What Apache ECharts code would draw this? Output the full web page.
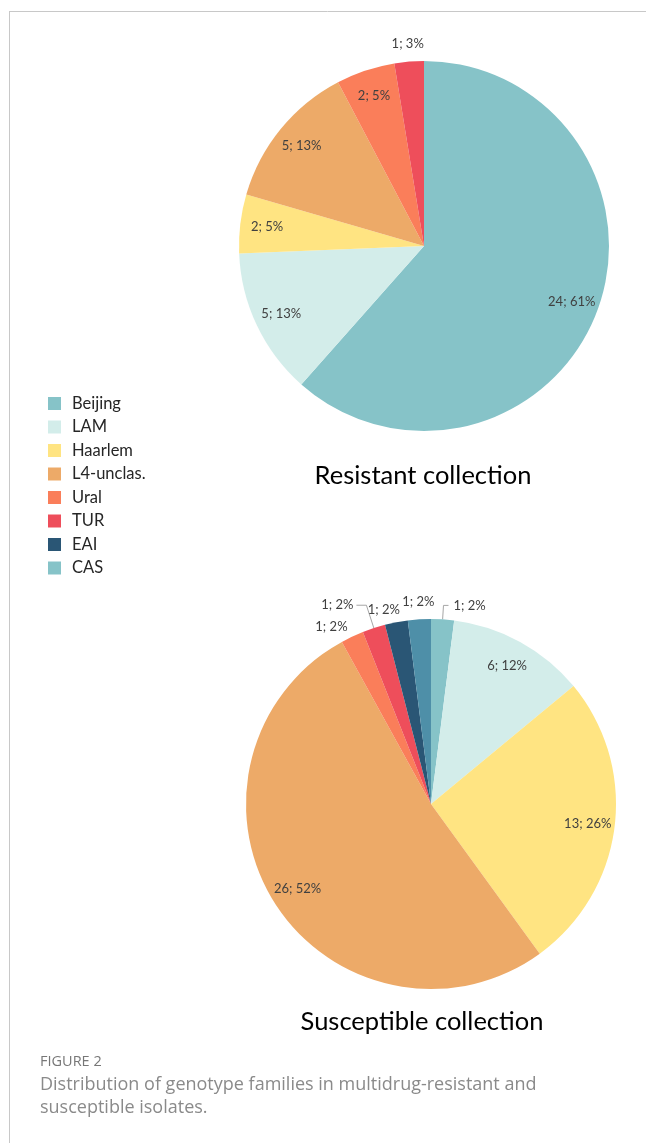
<!DOCTYPE html>
<html>
<head>
<meta charset="utf-8">
<script src="https://cdn.jsdelivr.net/npm/echarts@6/dist/echarts.min.js"></script>
<style>
  html, body { margin: 0; padding: 0; background: #fff; }
  #chart { width: 646px; height: 1143px; }
</style>
</head>
<body>
<div id="chart"></div>
<script>
// ---- data ----
const families = ['Beijing', 'LAM', 'Haarlem', 'L4-unclas.', 'Ural', 'TUR', 'EAI', 'CAS'];
const legendColors = ['#86C3C8', '#D3EDEA', '#FFE482', '#EDAA68', '#FA7E5A', '#EE4E5B', '#2A5675', '#86C3C8'];
const sliceColors  = ['#86C3C8', '#D3EDEA', '#FFE482', '#EDAA68', '#FA7E5A', '#EE4E5B', '#2A5675', '#4E8FA8'];

const resistantNames  = ['Beijing', 'LAM', 'Haarlem', 'L4-unclas.', 'Ural', 'TUR'];
const resistantValues = [24, 5, 2, 5, 2, 1];

const susceptibleNames  = ['Beijing', 'LAM', 'Haarlem', 'L4-unclas.', 'Ural', 'TUR', 'EAI', 'CAS'];
const susceptibleValues = [1, 6, 13, 26, 1, 1, 1, 1];

const titles = ['Resistant collection', 'Susceptible collection'];
const captionHead = 'FIGURE 2';
const captionLines = ['Distribution of genotype families in multidrug-resistant and', 'susceptible isolates.'];

// outside label placement (style): name -> [lineLength, lineLength2, showLine, distance]
const resistantOutside = {};
const susceptibleOutside = {
  'Beijing': [14, 5, true, 5],
  'TUR': [24, 10, true, 3],
  'EAI': [13, 0, false, -6],
  'Ural': [11, 0, false, 0]
};

// ---- helpers ----
const LABEL_FONT = 'Lato, "Noto Sans", sans-serif';
const labelStyle = { color: '#404040', fontSize: 13, fontFamily: LABEL_FONT };
const fmt = p => p.value + '; ' + p.percent + '%';

function colorOf(name) { return sliceColors[families.indexOf(name)]; }

function makePie(names, values, center, outside) {
  const R = 185;
  const main = {
    type: 'pie', center: center, radius: [0, R], startAngle: 90, clockwise: true,
    percentPrecision: 0, avoidLabelOverlap: false, silent: true,
    itemStyle: { borderWidth: 0 },
    emphasis: { disabled: true },
    data: names.map((n, i) => {
      const o = outside[n];
      return {
        name: n, value: values[i],
        itemStyle: { color: colorOf(n) },
        label: o ? Object.assign({ show: true, position: 'outside', formatter: fmt, distanceToLabelLine: o[3] }, labelStyle) : { show: false },
        labelLine: o ? { show: o[2], length: o[0], length2: o[1], smooth: false, lineStyle: { color: '#A6A6A6', width: 1 } } : { show: false }
      };
    })
  };
  const transparent = { color: 'rgba(0,0,0,0)', borderWidth: 0 };
  const inner = {
    type: 'pie', center: center, radius: [125, R], startAngle: 90, clockwise: true,
    percentPrecision: 0, silent: true, emphasis: { disabled: true },
    itemStyle: transparent, labelLine: { show: false },
    label: Object.assign({ position: 'inside', formatter: p => p.value > 1 ? fmt(p) : '' }, labelStyle),
    data: names.map((n, i) => ({ name: n, value: values[i] }))
  };
  const ring = {
    type: 'pie', center: center, radius: [R, 214], startAngle: 90, clockwise: true,
    percentPrecision: 0, silent: true, emphasis: { disabled: true },
    itemStyle: transparent, labelLine: { show: false },
    label: Object.assign({ position: 'inside', formatter: p => (p.value === 1 && !outside[p.name]) ? fmt(p) : '' }, labelStyle),
    data: names.map((n, i) => ({ name: n, value: values[i] }))
  };
  return [main, inner, ring];
}

const chart = echarts.init(document.getElementById('chart'), null, { renderer: 'canvas' });

const option = {
  animation: false,
  backgroundColor: '#ffffff',
  legend: {
    orient: 'vertical', left: 43, top: 390,
    icon: 'rect', itemWidth: 13, itemHeight: 13, itemGap: 6.5,
    selectedMode: false,
    textStyle: { fontSize: 16.5, color: '#262626', fontFamily: LABEL_FONT, padding: [0, 0, 0, 6] },
    data: families.map((n, i) => ({ name: n, itemStyle: { color: legendColors[i], borderWidth: 0 } }))
  },
  series: [
    ...makePie(resistantNames, resistantValues, [424, 246], resistantOutside),
    ...makePie(susceptibleNames, susceptibleValues, [431, 804], susceptibleOutside)
  ],
  graphic: [
    // frame lines
    { type: 'line', shape: { x1: 9, y1: 11.5, x2: 646, y2: 11.5 }, style: { stroke: '#C8C8C8', lineWidth: 1 }, silent: true },
    { type: 'line', shape: { x1: 9.5, y1: 11, x2: 9.5, y2: 1143 }, style: { stroke: '#C8C8C8', lineWidth: 1 }, silent: true },
    // pie titles
    { type: 'text', x: 423, y: 476, style: { text: titles[0], fontSize: 25.5, fontFamily: LABEL_FONT, fill: '#000', align: 'center', verticalAlign: 'middle' } },
    { type: 'text', x: 422, y: 1022, style: { text: titles[1], fontSize: 25.5, fontFamily: LABEL_FONT, fill: '#000', align: 'center', verticalAlign: 'middle' } },
    // caption
    { type: 'text', x: 40, y: 1062, style: { text: captionHead, fontSize: 14.5, fontFamily: '"Open Sans", sans-serif', fill: '#777777', verticalAlign: 'middle' } },
    { type: 'text', x: 40, y: 1085, style: { text: captionLines[0], fontSize: 18, fontFamily: '"Open Sans", sans-serif', fill: '#8A8A8A', verticalAlign: 'middle' } },
    { type: 'text', x: 40, y: 1108, style: { text: captionLines[1], fontSize: 18, fontFamily: '"Open Sans", sans-serif', fill: '#8A8A8A', verticalAlign: 'middle' } }
  ]
};

chart.setOption(option);
</script>
</body>
</html>
